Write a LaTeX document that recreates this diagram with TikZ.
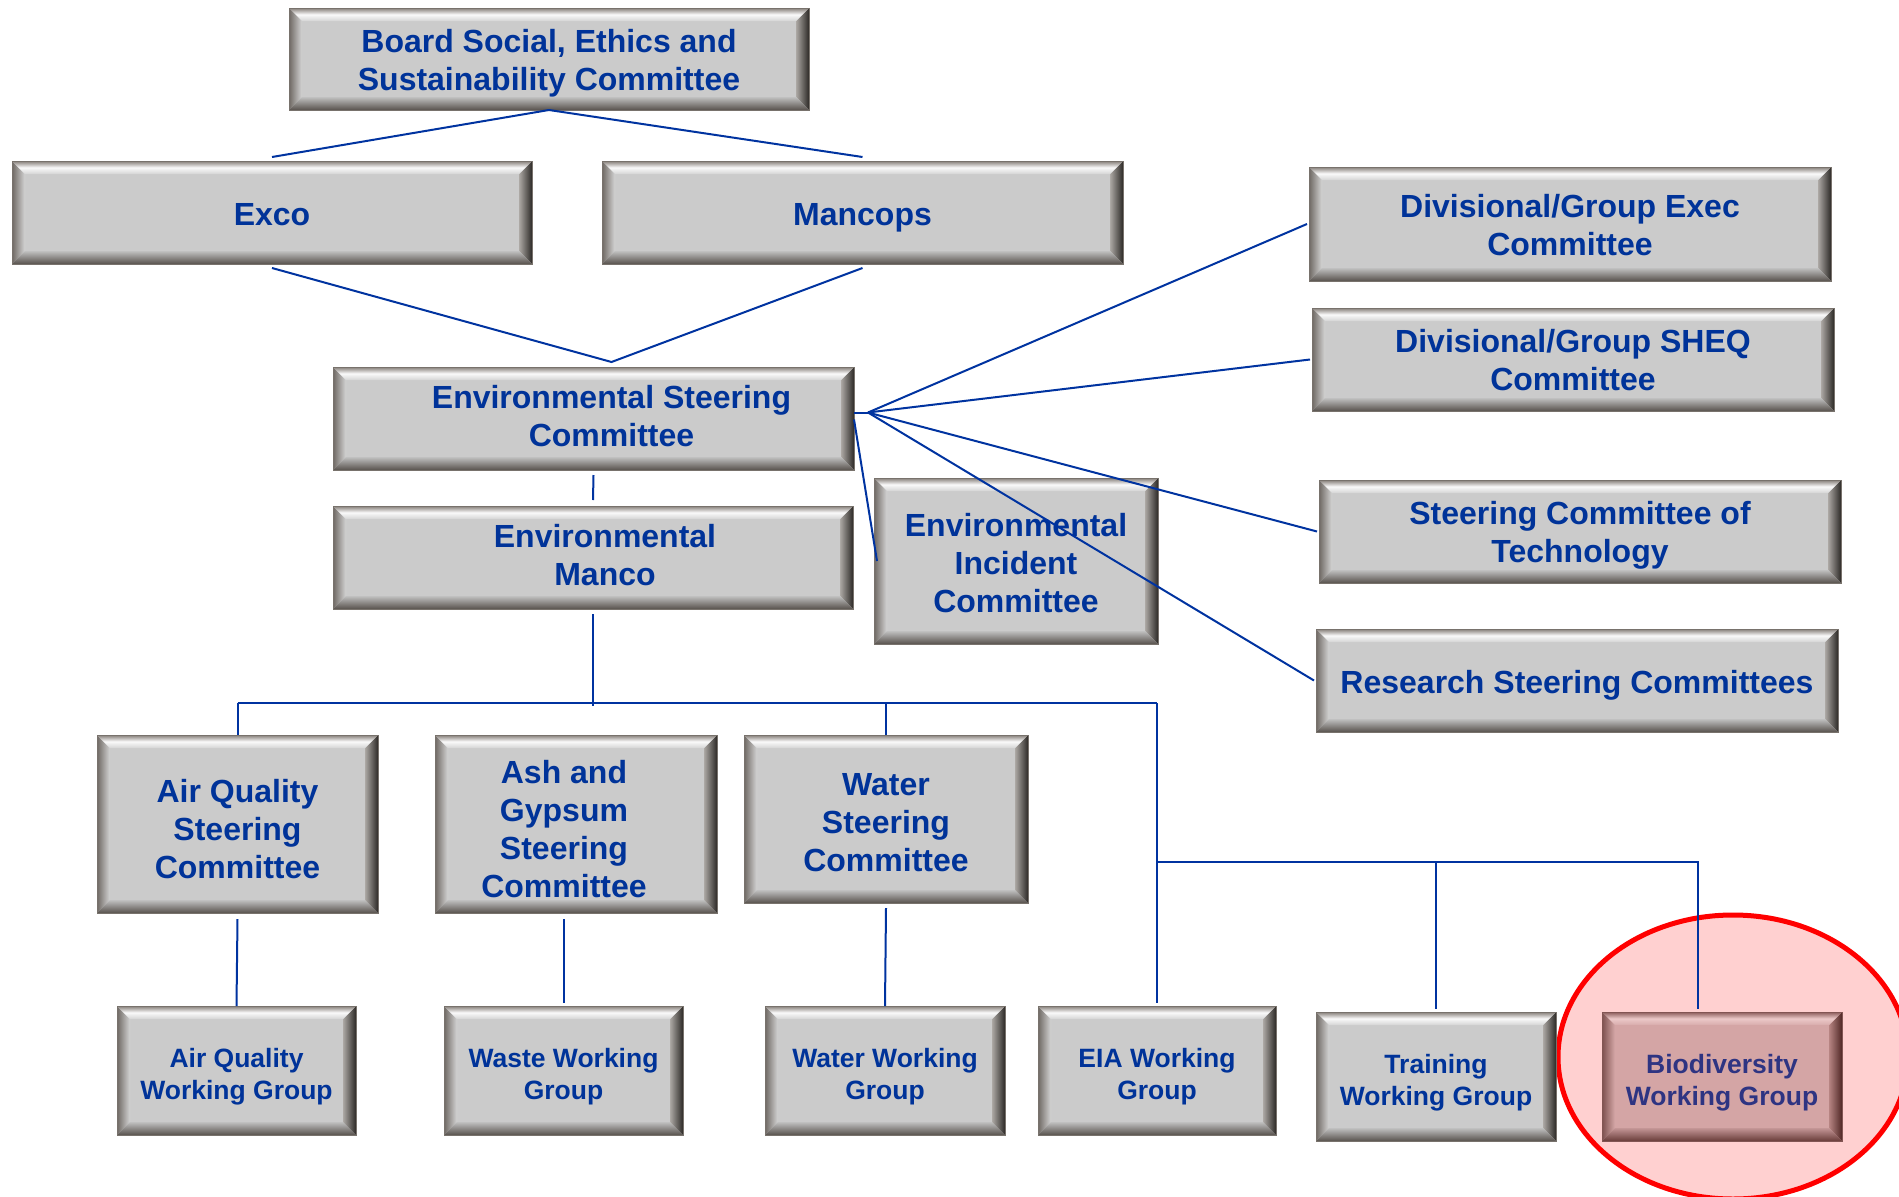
\documentclass[tikz,border=0pt]{standalone}
\usepackage{fontspec}
\setmainfont{Liberation Sans}
\usetikzlibrary{shapes.geometric,calc}
\definecolor{tblue}{RGB}{0,51,153}
\definecolor{lblue}{RGB}{0,51,160}
\definecolor{bioblue}{RGB}{46,52,130}
\definecolor{gBody}{RGB}{203,203,203}
\definecolor{gTopO}{RGB}{133,126,120}
\definecolor{gTopM}{RGB}{250,250,250}
\definecolor{gTopI}{RGB}{212,212,212}
\definecolor{gBotO}{RGB}{88,82,77}
\definecolor{gBotI}{RGB}{192,192,192}
\definecolor{gLeftO}{RGB}{110,104,99}
\definecolor{gLeftI}{RGB}{212,212,212}
\definecolor{gRightO}{RGB}{45,42,39}
\definecolor{gRightI}{RGB}{172,168,164}
\definecolor{gEdge}{RGB}{120,114,108}
\definecolor{pBody}{RGB}{212,165,165}
\definecolor{pTopO}{RGB}{140,92,90}
\definecolor{pTopM}{RGB}{235,200,200}
\definecolor{pTopI}{RGB}{216,172,172}
\definecolor{pBotO}{RGB}{105,60,58}
\definecolor{pBotI}{RGB}{196,150,150}
\definecolor{pLeftO}{RGB}{125,80,78}
\definecolor{pLeftI}{RGB}{214,168,168}
\definecolor{pRightO}{RGB}{80,40,38}
\definecolor{pRightI}{RGB}{182,132,130}
\definecolor{pEdge}{RGB}{130,85,83}
\definecolor{hlfill}{RGB}{255,208,208}
\definecolor{hlred}{RGB}{255,0,0}
\def\bw{13pt}
\newcommand\bevelfill[1]{%
  \coordinate (pSW) at (path picture bounding box.south west);
  \coordinate (pNE) at (path picture bounding box.north east);
  \coordinate (pNW) at (path picture bounding box.north west);
  \coordinate (pSE) at (path picture bounding box.south east);
  \fill[#1Body] (pSW) rectangle (pNE);
  \shade[left color=#1LeftO, right color=#1LeftI] (pNW) -- ([shift={(\bw,-\bw)}]pNW) -- ([shift={(\bw,\bw)}]pSW) -- (pSW) -- cycle;
  \shade[left color=#1RightI, right color=#1RightO] (pNE) -- ([shift={(-\bw,-\bw)}]pNE) -- ([shift={(-\bw,\bw)}]pSE) -- (pSE) -- cycle;
  \shade[top color=#1TopO, bottom color=#1TopI, middle color=#1TopM] (pNW) -- (pNE) -- ([shift={(-\bw,-\bw)}]pNE) -- ([shift={(\bw,-\bw)}]pNW) -- cycle;
  \shade[top color=#1BotI, bottom color=#1BotO] (pSW) -- (pSE) -- ([shift={(-\bw,\bw)}]pSE) -- ([shift={(\bw,\bw)}]pSW) -- cycle;
}
\tikzset{
  bevel/.style={rectangle, inner sep=0pt, outer sep=0pt, path picture={\bevelfill{#1}}, draw=#1Edge, line width=0.8pt},
  bigtxt/.style={align=center, text=tblue, font=\fontsize{32pt}{38pt}\selectfont\bfseries, inner sep=0pt},
  smtxt/.style={align=center, text=tblue, font=\fontsize{26.5pt}{32pt}\selectfont\bfseries, inner sep=0pt},
  biotxt/.style={smtxt, text=bioblue},
  ln/.style={draw=lblue, line width=2pt},
}
% #1 name, #2 x1, #3 y1, #4 x2, #5 y2, #6 colour set, #7 text style, #8 shift, #9 text
\newcommand\bbox[9]{%
  \pgfmathsetmacro\bW{#4-#2}\pgfmathsetmacro\bH{#5-#3}%
  \node[bevel=#6, minimum width=\bW pt, minimum height=\bH pt, anchor=north west] (#1) at (#2,#3) {};
  \node[#7] (#1-t) at ([#8]#1.center) {#9};
}
\begin{document}
\begin{tikzpicture}[x=1pt,y=-1pt]
\useasboundingbox (0,0) rectangle (1899,1197);
\clip (0,0) rectangle (1899,1197);
% highlight
\node[ellipse, draw=hlred, fill=hlfill, line width=5pt, minimum width=350pt, minimum height=284pt, inner sep=0pt] (hl) at (1733,1057) {};
% boxes
\bbox{board}{289}{8}{809}{110}{g}{bigtxt}{yshift=-4pt}{Board Social, Ethics and\\Sustainability Committee}
\bbox{exco}{12}{161}{532}{264}{g}{bigtxt}{yshift=-2pt}{Exco}
\bbox{mancops}{602}{161}{1123}{264}{g}{bigtxt}{yshift=-5pt}{Mancops}
\bbox{ensc}{333}{367}{854}{470}{g}{bigtxt}{xshift=18pt,yshift=2pt}{Environmental Steering\\Committee}
\bbox{manco}{333}{506}{853}{609}{g}{bigtxt}{xshift=12pt,yshift=2pt}{Environmental\\Manco}
\bbox{inc}{874}{478}{1158}{644}{g}{bigtxt}{yshift=-2pt}{Environmental\\Incident\\Committee}
\bbox{dx}{1309}{167}{1831}{281}{g}{bigtxt}{yshift=-1pt}{Divisional/Group Exec\\Committee}
\bbox{sheq}{1312}{308}{1834}{411}{g}{bigtxt}{yshift=-1pt}{Divisional/Group SHEQ\\Committee}
\bbox{tech}{1319}{480}{1841}{583}{g}{bigtxt}{yshift=-4pt}{Steering Committee of\\Technology}
\bbox{res}{1316}{629}{1838}{732}{g}{bigtxt}{yshift=-5pt}{Research Steering Committees}
\bbox{aqsc}{97}{735}{378}{913}{g}{bigtxt}{yshift=-5pt}{Air Quality\\Steering\\Committee}
\bbox{ash}{435}{735}{717}{913}{g}{bigtxt}{xshift=-12pt,yshift=-5pt}{Ash and\\Gypsum\\Steering\\Committee}
\bbox{wsc}{744}{735}{1028}{903}{g}{bigtxt}{yshift=-4pt}{Water\\Steering\\Committee}
\bbox{aqwg}{117}{1006}{356}{1135}{g}{smtxt}{yshift=-6pt}{Air Quality\\Working Group}
\bbox{waste}{444}{1006}{683}{1135}{g}{smtxt}{yshift=-6pt}{Waste Working\\Group}
\bbox{wwg}{765}{1006}{1005}{1135}{g}{smtxt}{yshift=-6pt}{Water Working\\Group}
\bbox{eia}{1038}{1006}{1276}{1135}{g}{smtxt}{yshift=-6pt}{EIA Working\\Group}
\bbox{train}{1316}{1012}{1556}{1141}{g}{smtxt}{yshift=-6pt}{Training\\Working Group}
\bbox{bio}{1602}{1012}{1842}{1141}{p}{biotxt}{yshift=-6pt}{Biodiversity\\Working Group}
% connectors
\draw[ln] (board.south) -- ([yshift=4pt]exco.north);
\draw[ln] (board.south) -- ([yshift=4pt]mancops.north);
\coordinate (apex) at ([xshift=18pt,yshift=5pt]ensc.north);
\draw[ln] ([yshift=-4pt]exco.south) -- (apex) -- ([yshift=-4pt]mancops.south);
\coordinate (fan) at ([xshift=14pt,yshift=6pt]ensc.east);
\draw[ln] ([yshift=6pt]ensc.east) -- (fan);
\draw[ln] (fan) -- ([xshift=-2pt]dx.west);
\draw[ln] (fan) -- ([xshift=-2pt]sheq.west);
\draw[ln] (fan) -- ([xshift=-2pt]tech.west);
\draw[ln] (fan) -- ([xshift=-2pt]res.west);
\draw[ln] ([yshift=-1pt]ensc.east) -- ([xshift=3pt]inc.west);
\draw[ln] ([yshift=-5pt]ensc.south) -- ([yshift=6pt]manco.north);
\coordinate (busy) at (0,703);
\coordinate (busy2) at (0,862);
\draw[ln] ([yshift=-5pt]manco.south) -- ([yshift=-3pt]manco.south |- busy);
\draw[ln] (aqsc.north |- busy) -- (eia.north |- busy);
\draw[ln] (aqsc.north |- busy) -- (aqsc.north);
\draw[ln] (wsc.north |- busy) -- (wsc.north);
\draw[ln] (eia.north |- busy) -- ([yshift=3pt]eia.north);
\coordinate (biox) at ([xshift=-24pt,yshift=3pt]bio.north);
\draw[ln] (eia.north |- busy2) -- (biox |- busy2) -- (biox);
\draw[ln] (train.north |- busy2) -- ([yshift=3pt]train.north);
\draw[ln] ([yshift=-6pt]aqsc.south) -- (aqwg.north);
\coordinate (ashb) at (waste.north |- ash.south);
\draw[ln] ([yshift=-6pt]ashb) -- ([yshift=3pt]waste.north);
\draw[ln] ([yshift=-5pt]wsc.south) -- (wwg.north);
\end{tikzpicture}
\end{document}
